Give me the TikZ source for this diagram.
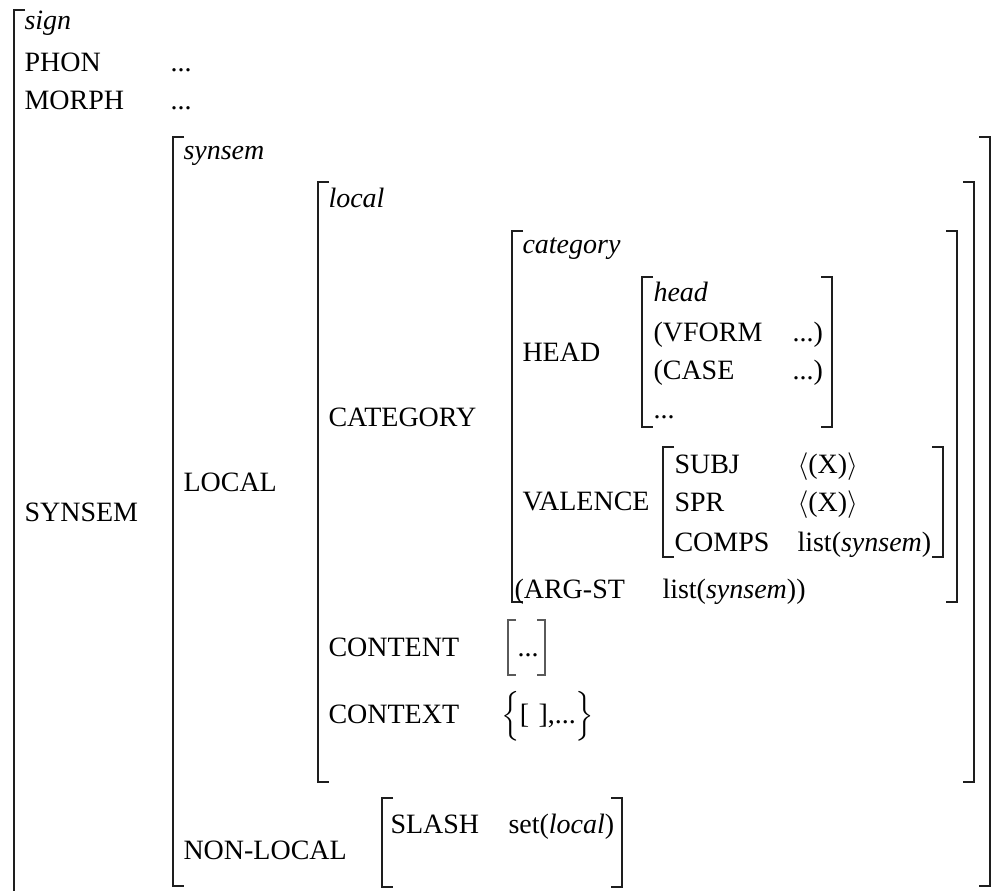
\documentclass[tikz,border=0pt]{standalone}
\usepackage{amsmath}
\usepackage{fontspec}
\setmainfont{Liberation Serif}
\usetikzlibrary{calc}
\tikzset{every picture/.style={line width=0.75pt}}
\tikzset{
  brk/.style={line width=1.5pt, color={rgb, 255:red, 30; green, 30; blue, 30 }},
  thinbrk/.style={line width=0.9pt, color={rgb, 255:red, 90; green, 90; blue, 90 }},
  txt/.style={anchor=base west, inner sep=0pt},
}

\begin{document}
\begin{tikzpicture}[x=0.75pt,y=0.75pt,yscale=-1,xscale=1,font=\fontsize{21pt}{25pt}\selectfont]
\useasboundingbox (0,0) rectangle (997,890);

%Bracket: sign (left only)
\draw [brk] (25,10) -- (14,10) -- (14,900) ;
%Bracket: synsem
\draw [brk] (184,137) -- (173,137) -- (173,886) -- (184,886) ;
\draw [brk] (979,137) -- (990,137) -- (990,886) -- (979,886) ;
%Bracket: local
\draw [brk] (329,182) -- (318,182) -- (318,782) -- (329,782) ;
\draw [brk] (963,182) -- (974,182) -- (974,782) -- (963,782) ;
%Bracket: category
\draw [brk] (523,231) -- (512,231) -- (512,602) -- (523,602) ;
\draw [brk] (946,231) -- (957,231) -- (957,602) -- (946,602) ;
%Bracket: head
\draw [brk] (653,277) -- (642,277) -- (642,427) -- (653,427) ;
\draw [brk] (821,277) -- (832,277) -- (832,427) -- (821,427) ;
%Bracket: valence
\draw [brk] (674,447) -- (663,447) -- (663,557) -- (674,557) ;
\draw [brk] (932,447) -- (943,447) -- (943,557) -- (932,557) ;
%Bracket: content
\draw [thinbrk] (516,620) -- (508,620) -- (508,675) -- (516,675) ;
\draw [thinbrk] (537,620) -- (545,620) -- (545,675) -- (537,675) ;
%Bracket: non-local
\draw [brk] (393,798) -- (382,798) -- (382,887) -- (393,887) ;
\draw [brk] (611,798) -- (622,798) -- (622,887) -- (611,887) ;

% Text Node
\draw (24,29) node [txt] (sign) {\textit{sign}};
% Text Node
\draw (24,71) node [txt] (phon) {PHON};
% Text Node
\draw (170,71) node [txt] (phonval) {...};
% Text Node
\draw (24,109) node [txt] (morph) {MORPH};
% Text Node
\draw (170,109) node [txt] (morphval) {...};
% Text Node
\draw (24,521) node [txt] (synsemattr) {SYNSEM};
% Text Node
\draw (183,159) node [txt] (synsemtype) {\textit{synsem}};
% Text Node
\draw (183,491) node [txt] (localattr) {LOCAL};
% Text Node
\draw (183,859) node [txt] (nonlocalattr) {NON-LOCAL};
% Text Node
\draw (328,207) node [txt] (localtype) {\textit{local}};
% Text Node
\draw (328,426) node [txt] (catattr) {CATEGORY};
% Text Node
\draw (328,656) node [txt] (contentattr) {CONTENT};
% Text Node
\draw (517,656) node [txt] (contentval) {...};
% Text Node
\draw (328,723) node [txt] (contextattr) {CONTEXT};
% Text Node
\draw (501,723) node [txt] (contextval) {$\Big\{$[\,\,],...$\Big\}$};
% Text Node
\draw (522,253) node [txt] (cattype) {\textit{category}};
% Text Node
\draw (522,361) node [txt] (headattr) {HEAD};
% Text Node
\draw (653,301) node [txt] (headtype) {\textit{head}};
% Text Node
\draw (653,341) node [txt] (vform) {(VFORM};
% Text Node
\draw (792,341) node [txt] (vformval) {...)};
% Text Node
\draw (653,379) node [txt] (case) {(CASE};
% Text Node
\draw (792,379) node [txt] (caseval) {...)};
% Text Node
\draw (653,418) node [txt] (headmore) {...};
% Text Node
\draw (522,510) node [txt] (valattr) {VALENCE};
% Text Node
\draw (674,473) node [txt] (subj) {SUBJ};
% Text Node
\draw (797,473) node [txt] (subjval) {$\langle$(X)$\rangle$};
% Text Node
\draw (674,511) node [txt] (spr) {SPR};
% Text Node
\draw (797,511) node [txt] (sprval) {$\langle$(X)$\rangle$};
% Text Node
\draw (674,551) node [txt] (comps) {COMPS};
% Text Node
\draw (797,551) node [txt] (compsval) {list(\textit{synsem})};
% Text Node
\draw (514,598) node [txt] (argst) {(ARG-ST};
% Text Node
\draw (662,598) node [txt] (argstval) {list(\textit{synsem}))};
% Text Node
\draw (390,833) node [txt] (slash) {SLASH};
% Text Node
\draw (508,833) node [txt] (slashval) {set(\textit{local})};

\end{tikzpicture}
\end{document}
